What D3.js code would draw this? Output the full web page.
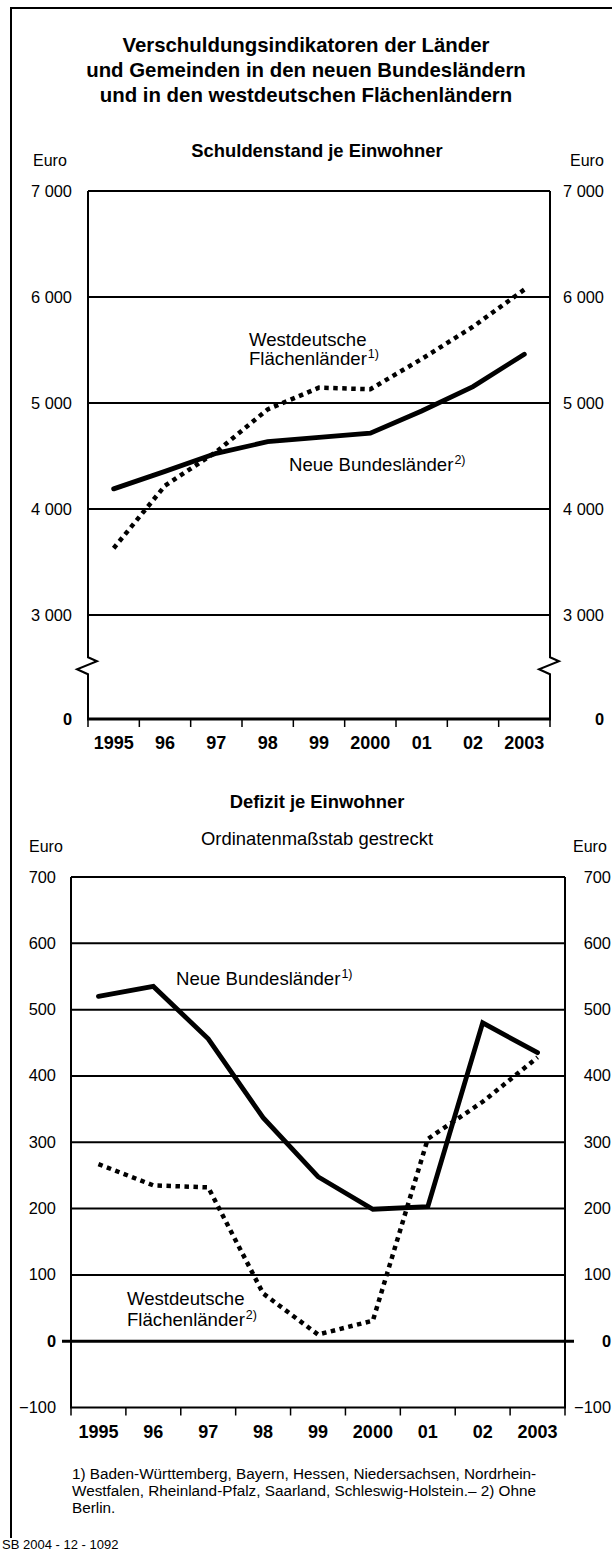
<!DOCTYPE html>
<html>
<head>
<meta charset="utf-8">
<script src="https://cdn.jsdelivr.net/npm/d3@7"></script>
<style>
  html, body { margin: 0; padding: 0; background: #fff; }
  svg { display: block; font-family: "Liberation Sans", Arial, Helvetica, sans-serif; }
</style>
</head>
<body>
<script>
// ---- Data ----
const years = ["1995", "96", "97", "98", "99", "2000", "01", "02", "2003"];
const schuldenNeue = [4190, 4355, 4525, 4635, 4675, 4715, 4925, 5155, 5460];
const schuldenWest = [3630, 4220, 4540, 4940, 5145, 5130, 5415, 5720, 6070];
const schuldenTicks = [0, 3000, 4000, 5000, 6000, 7000];
const defizitNeue = [520, 535, 456, 337, 248, 199, 203, 480, 435];
const defizitWest = [267, 235, 232, 72, 10, 31, 305, 361, 428];
const defizitTicks = [-100, 0, 100, 200, 300, 400, 500, 600, 700];

const titleLines = [
  "Verschuldungsindikatoren der Länder",
  "und Gemeinden in den neuen Bundesländern",
  "und in den westdeutschen Flächenländern"
];
const footLines = [
  "1) Baden-Württemberg, Bayern, Hessen, Niedersachsen, Nordrhein-",
  "Westfalen, Rheinland-Pfalz, Saarland, Schleswig-Holstein.– 2) Ohne",
  "Berlin."
];

const W = 612, H = 1552;
const svg = d3.select("body").append("svg").attr("width", W).attr("height", H);
svg.append("rect").attr("width", W).attr("height", H).attr("fill", "#fff");

// frame
svg.append("path").attr("d", "M11,1538 V8 H620").attr("fill", "none")
  .attr("stroke", "#000").attr("stroke-width", 2);

// title
svg.append("g").selectAll("text").data(titleLines).join("text")
  .attr("x", 306).attr("y", (d, i) => 52 + i * 25)
  .attr("text-anchor", "middle").attr("font-weight", "bold").attr("font-size", 20.4)
  .text(d => d);

const fmt = d3.formatLocale({ decimal: ",", thousands: " ", grouping: [3] }).format(",d");

function label(g, x, y, lines, sup, lh) {
  lines.forEach((t, i) => {
    const tx = g.append("text").attr("x", x).attr("y", y + i * lh).attr("font-size", 18.6).text(t);
    if (i === lines.length - 1 && sup) {
      tx.append("tspan").attr("font-size", 12.5).attr("dy", -7).attr("dx", 1).text(sup);
    }
  });
}

function chart(opts) {
  const g = svg.append("g");
  const x = d3.scaleBand().domain(years).range(opts.xr);
  const y = opts.y;
  const [x0, x1] = opts.xr;
  const yTop = y(opts.topVal), yBot = y(opts.botVal);

  // subtitle(s)
  g.append("text").attr("x", 317).attr("y", opts.subY).attr("text-anchor", "middle")
    .attr("font-weight", "bold").attr("font-size", 18.4).text(opts.sub);
  if (opts.sub2) {
    g.append("text").attr("x", 317).attr("y", opts.sub2Y).attr("text-anchor", "middle")
      .attr("font-size", 18.4).text(opts.sub2);
  }
  // Euro
  g.append("text").attr("x", opts.euroL).attr("y", yTop - 25).attr("font-size", 16).text("Euro");
  g.append("text").attr("x", opts.euroR).attr("y", yTop - 25).attr("font-size", 16).text("Euro");

  // gridlines
  opts.ticks.forEach(v => {
    if (v === opts.botVal || v === opts.zeroVal) return;
    g.append("line").attr("x1", x0).attr("x2", x1).attr("y1", y(v)).attr("y2", y(v))
      .attr("stroke", "#000").attr("stroke-width", 2);
  });
  // vertical axes with optional break
  [x0, x1].forEach(ax => {
    if (opts.breakVal !== undefined) {
      const yb = y(opts.breakVal);
      g.append("path")
        .attr("d", `M${ax},${yTop} V${yb - 8} L${ax + 9},${yb - 4} L${ax - 11},${yb + 4} L${ax},${yb + 9} V${yBot}`)
        .attr("fill", "none").attr("stroke", "#000").attr("stroke-width", 2);
    } else {
      g.append("line").attr("x1", ax).attr("x2", ax).attr("y1", yTop).attr("y2", yBot)
        .attr("stroke", "#000").attr("stroke-width", 2);
    }
  });
  // bottom axis line
  g.append("line").attr("x1", x0 - 1).attr("x2", x1 + 1).attr("y1", yBot).attr("y2", yBot)
    .attr("stroke", "#000").attr("stroke-width", opts.botW);
  // zero line (bottom chart)
  if (opts.zeroVal !== undefined && opts.zeroVal !== opts.botVal) {
    g.append("line").attr("x1", x0 - 9).attr("x2", x1 + 9).attr("y1", y(opts.zeroVal)).attr("y2", y(opts.zeroVal))
      .attr("stroke", "#000").attr("stroke-width", 3);
  }
  // x ticks
  const bounds = years.map(d => x(d)).concat([x1]);
  bounds.forEach(bx => {
    g.append("line").attr("x1", bx).attr("x2", bx).attr("y1", yBot).attr("y2", yBot + 8)
      .attr("stroke", "#000").attr("stroke-width", 1.5);
  });
  g.selectAll(".yr").data(years).join("text")
    .attr("x", d => x(d) + x.bandwidth() / 2).attr("y", yBot + 30)
    .attr("text-anchor", "middle").attr("font-weight", "bold").attr("font-size", 18)
    .text(d => d);

  // y tick labels
  opts.ticks.forEach(v => {
    const bold = v === 0;
    [opts.labL, opts.labR].forEach(lx => {
      g.append("text").attr("x", lx).attr("y", y(v) + 5.5).attr("text-anchor", "end")
        .attr("font-size", 16.4).attr("font-weight", bold ? "bold" : "normal").text(fmt(v));
    });
  });

  // lines
  const line = d3.line().x((d, i) => x(years[i]) + x.bandwidth() / 2).y(d => y(d));
  g.append("path").attr("d", line(opts.west)).attr("fill", "none").attr("stroke", "#000")
    .attr("stroke-width", 4.5).attr("stroke-dasharray", "4.5,4.5");
  g.append("path").attr("d", line(opts.neue)).attr("fill", "none").attr("stroke", "#000")
    .attr("stroke-width", 4.8).attr("stroke-linejoin", "miter").attr("stroke-linecap", "round");

  opts.labels(g);
}

// ---- Top chart: Schuldenstand ----
const yTopChart = d3.scaleLinear().domain([0, 3000, 7000]).range([719, 615, 191]);
chart({
  xr: [88, 550], y: yTopChart, topVal: 7000, botVal: 0, breakVal: 1550,
  ticks: schuldenTicks, botW: 3,
  sub: "Schuldenstand je Einwohner", subY: 157,
  euroL: 33, euroR: 570, labL: 72, labR: 604,
  neue: schuldenNeue, west: schuldenWest,
  labels: g => {
    label(g, 249, 346, ["Westdeutsche", "Flächenländer"], "1)", 19);
    label(g, 289, 471, ["Neue Bundesländer"], "2)", 19);
  }
});

// ---- Bottom chart: Defizit ----
const yBotChart = d3.scaleLinear().domain([-100, 700]).range([1407.5, 877]);
chart({
  xr: [71, 565], y: yBotChart, topVal: 700, botVal: -100, zeroVal: 0,
  ticks: defizitTicks, botW: 2,
  sub: "Defizit je Einwohner", subY: 808,
  sub2: "Ordinatenmaßstab gestreckt", sub2Y: 845,
  euroL: 29, euroR: 573, labL: 56, labR: 611,
  neue: defizitNeue, west: defizitWest,
  labels: g => {
    label(g, 176, 985, ["Neue Bundesländer"], "1)", 21);
    label(g, 127, 1305, ["Westdeutsche", "Flächenländer"], "2)", 21);
  }
});

// footnotes
svg.append("g").selectAll("text").data(footLines).join("text")
  .attr("x", 72).attr("y", (d, i) => 1479 + i * 17).attr("font-size", 15.3).text(d => d);
svg.append("text").attr("x", 2).attr("y", 1549).attr("font-size", 13).text("SB 2004 - 12 - 1092");
</script>
</body>
</html>
